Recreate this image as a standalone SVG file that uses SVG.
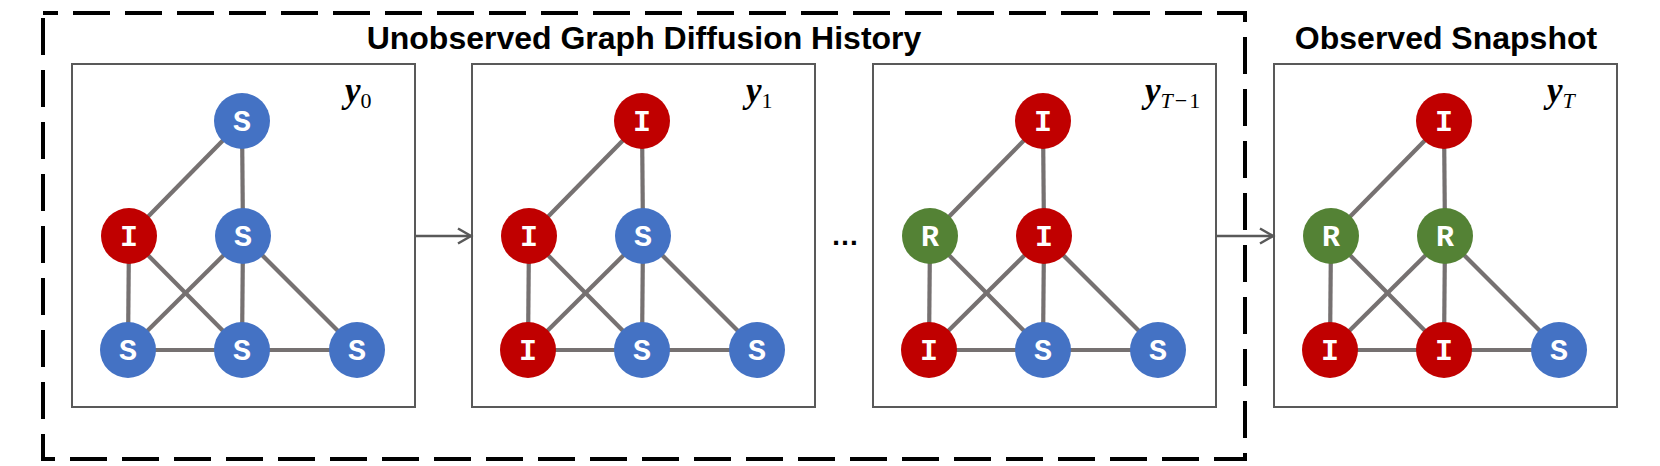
<svg xmlns="http://www.w3.org/2000/svg" width="1660" height="466" viewBox="0 0 1660 466">
<defs>
<style>
.frame{fill:none;stroke:#000;stroke-width:4;stroke-dasharray:37 15;stroke-dashoffset:22}
.box{fill:#fff;stroke:#595959;stroke-width:2}
.edge{stroke:#767171;stroke-width:4.2}
.arrow{stroke:#595959;stroke-width:2.5;fill:none}
.title{font-family:"Liberation Sans",Arial,sans-serif;font-weight:bold;font-size:32px;fill:#000;text-anchor:middle}
.lbl{font-family:"Liberation Mono","Courier New",monospace;font-weight:bold;font-size:30px;fill:#fff;text-anchor:middle}
.math{font-family:"Liberation Serif","Times New Roman",serif;fill:#000}
.my{font-size:35px;font-weight:bold;font-style:italic}
.sub{font-size:22px}
.S{fill:#4472C4}.I{fill:#C00000}.R{fill:#548235}
</style>
<marker id="chev" markerUnits="userSpaceOnUse" markerWidth="20" markerHeight="20" viewBox="-16 -10 20 20" refX="0" refY="0" orient="auto">
<path d="M-13,-7.5 L0,0 L-13,7.5" fill="none" stroke="#595959" stroke-width="2.5"/>
</marker>
<g id="edges">
<line class="edge" x1="242" y1="121" x2="129" y2="236"/>
<line class="edge" x1="242" y1="121" x2="243" y2="236"/>
<line class="edge" x1="129" y1="236" x2="128" y2="350"/>
<line class="edge" x1="129" y1="236" x2="242" y2="350"/>
<line class="edge" x1="243" y1="236" x2="128" y2="350"/>
<line class="edge" x1="243" y1="236" x2="242" y2="350"/>
<line class="edge" x1="243" y1="236" x2="357" y2="350"/>
<line class="edge" x1="128" y1="350" x2="242" y2="350"/>
<line class="edge" x1="242" y1="350" x2="357" y2="350"/>
</g>
</defs>

<rect id="history-frame" class="frame" x="43" y="13" width="1202" height="446"/>
<text class="title" x="644" y="49">Unobserved Graph Diffusion History</text>
<text class="title" x="1446" y="49">Observed Snapshot</text>

<g id="panel-0">
<rect class="box" x="72" y="64" width="343" height="343"/>
<text class="math" x="345" y="102"><tspan class="my">y</tspan><tspan class="sub" dy="6">0</tspan></text>
</g>
<g id="panel-1">
<rect class="box" x="472" y="64" width="343" height="343"/>
<text class="math" x="746" y="102"><tspan class="my">y</tspan><tspan class="sub" dy="6">1</tspan></text>
</g>
<g id="panel-2">
<rect class="box" x="873" y="64" width="343" height="343"/>
<text class="math" x="1145" y="102"><tspan class="my">y</tspan><tspan class="sub" dy="6" font-style="italic">T</tspan><tspan class="sub" dx="2">−</tspan><tspan class="sub" dx="2">1</tspan></text>
</g>
<g id="panel-3">
<rect class="box" x="1274" y="64" width="343" height="343"/>
<text class="math" x="1547" y="102"><tspan class="my">y</tspan><tspan class="sub" dy="6" font-style="italic">T</tspan></text>
</g>

<g id="connectors">
<use href="#edges" x="0" y="0"/>
<use href="#edges" x="400" y="0"/>
<use href="#edges" x="801" y="0"/>
<use href="#edges" x="1202" y="0"/>
<line class="arrow" x1="415" y1="236" x2="471" y2="236" marker-end="url(#chev)"/>
<line class="arrow" x1="1217" y1="236" x2="1273" y2="236" marker-end="url(#chev)"/>
</g>

<text id="ellipsis" x="845" y="245" font-family="Liberation Sans,Arial,sans-serif" font-weight="bold" font-size="28" text-anchor="middle">…</text>

<!-- panel 0 nodes -->
<g id="p0-top"><circle class="S" cx="242" cy="121" r="28"/><text class="lbl" x="242" y="131">S</text></g>
<g id="p0-ml"><circle class="I" cx="129" cy="236" r="28"/><text class="lbl" x="129" y="246">I</text></g>
<g id="p0-mm"><circle class="S" cx="243" cy="236" r="28"/><text class="lbl" x="243" y="246">S</text></g>
<g id="p0-bl"><circle class="S" cx="128" cy="350" r="28"/><text class="lbl" x="128" y="360">S</text></g>
<g id="p0-bm"><circle class="S" cx="242" cy="350" r="28"/><text class="lbl" x="242" y="360">S</text></g>
<g id="p0-br"><circle class="S" cx="357" cy="350" r="28"/><text class="lbl" x="357" y="360">S</text></g>

<!-- panel 1 nodes -->
<g id="p1-top"><circle class="I" cx="642" cy="121" r="28"/><text class="lbl" x="642" y="131">I</text></g>
<g id="p1-ml"><circle class="I" cx="529" cy="236" r="28"/><text class="lbl" x="529" y="246">I</text></g>
<g id="p1-mm"><circle class="S" cx="643" cy="236" r="28"/><text class="lbl" x="643" y="246">S</text></g>
<g id="p1-bl"><circle class="I" cx="528" cy="350" r="28"/><text class="lbl" x="528" y="360">I</text></g>
<g id="p1-bm"><circle class="S" cx="642" cy="350" r="28"/><text class="lbl" x="642" y="360">S</text></g>
<g id="p1-br"><circle class="S" cx="757" cy="350" r="28"/><text class="lbl" x="757" y="360">S</text></g>

<!-- panel 2 nodes -->
<g id="p2-top"><circle class="I" cx="1043" cy="121" r="28"/><text class="lbl" x="1043" y="131">I</text></g>
<g id="p2-ml"><circle class="R" cx="930" cy="236" r="28"/><text class="lbl" x="930" y="246">R</text></g>
<g id="p2-mm"><circle class="I" cx="1044" cy="236" r="28"/><text class="lbl" x="1044" y="246">I</text></g>
<g id="p2-bl"><circle class="I" cx="929" cy="350" r="28"/><text class="lbl" x="929" y="360">I</text></g>
<g id="p2-bm"><circle class="S" cx="1043" cy="350" r="28"/><text class="lbl" x="1043" y="360">S</text></g>
<g id="p2-br"><circle class="S" cx="1158" cy="350" r="28"/><text class="lbl" x="1158" y="360">S</text></g>

<!-- panel 3 nodes -->
<g id="p3-top"><circle class="I" cx="1444" cy="121" r="28"/><text class="lbl" x="1444" y="131">I</text></g>
<g id="p3-ml"><circle class="R" cx="1331" cy="236" r="28"/><text class="lbl" x="1331" y="246">R</text></g>
<g id="p3-mm"><circle class="R" cx="1445" cy="236" r="28"/><text class="lbl" x="1445" y="246">R</text></g>
<g id="p3-bl"><circle class="I" cx="1330" cy="350" r="28"/><text class="lbl" x="1330" y="360">I</text></g>
<g id="p3-bm"><circle class="I" cx="1444" cy="350" r="28"/><text class="lbl" x="1444" y="360">I</text></g>
<g id="p3-br"><circle class="S" cx="1559" cy="350" r="28"/><text class="lbl" x="1559" y="360">S</text></g>
</svg>
